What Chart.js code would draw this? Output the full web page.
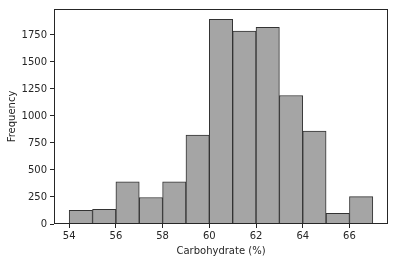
<!DOCTYPE html>
<html>
<head>
<meta charset="utf-8">
<script src="https://cdn.jsdelivr.net/npm/chart.js@4/dist/chart.umd.min.js"></script>
<style>
html,body{margin:0;padding:0;background:#fff;}
#wrap{width:395px;height:262px;}
</style>
</head>
<body>
<div id="wrap"><canvas id="c" width="395" height="262"></canvas></div>
<script>
const binStarts = [54, 55, 56, 57, 58, 59, 60, 61, 62, 63, 64, 65, 66];
const binWidth = 1;
const frequencies = [126, 135, 391, 245, 391, 822, 1894, 1785, 1821, 1189, 859, 98, 254];
const xTicks = [54, 56, 58, 60, 62, 64, 66];
const yTicks = [0, 250, 500, 750, 1000, 1250, 1500, 1750];
const xTitle = 'Carbohydrate (%)';
const yTitle = 'Frequency';

const points = binStarts.map((s, i) => ({x: s + binWidth / 2, y: frequencies[i]}));
const FONT = {family: 'DejaVu Sans', size: 10};
const axisColor = '#262626';

const frame = {
  id: 'frame',
  afterDraw(chart) {
    const a = chart.chartArea, ctx = chart.ctx;
    ctx.save();
    ctx.strokeStyle = axisColor;
    ctx.lineWidth = 1;
    ctx.strokeRect(Math.round(a.left) + 0.5, Math.round(a.top) + 0.5,
      Math.round(a.right - a.left) - 1, Math.round(a.bottom - a.top) - 1);
    ctx.restore();
  }
};

new Chart(document.getElementById('c'), {
  type: 'bar',
  data: {
    datasets: [{
      data: points,
      backgroundColor: '#a5a5a5',
      borderColor: '#333333',
      borderWidth: 1,
      barPercentage: 1,
      categoryPercentage: 1,
      borderSkipped: 'bottom'
    }]
  },
  options: {
    responsive: false,
    animation: false,
    devicePixelRatio: 1,
    layout: {padding: {left: 6, right: 7, top: 6, bottom: 5}},
    plugins: {legend: {display: false}, tooltip: {enabled: false}},
    scales: {
      x: {
        type: 'linear',
        offset: false,
        min: 53.35,
        max: 67.65,
        afterBuildTicks: (s) => { s.ticks = xTicks.map(v => ({value: v})); },
        afterFit: (s) => { s.height = 33; },
        grid: {display: true, offset: false, drawOnChartArea: false, drawTicks: true, tickLength: 4, color: axisColor},
        border: {display: false},
        ticks: {color: '#262626', font: FONT, padding: 2, maxRotation: 0, autoSkip: false},
        title: {display: true, text: xTitle, color: '#262626', font: FONT, padding: {top: 2, bottom: 0}}
      },
      y: {
        min: 0,
        max: 1990,
        afterBuildTicks: (s) => { s.ticks = yTicks.map(v => ({value: v})); },
        afterFit: (s) => { s.width = 48; },
        grid: {display: true, drawOnChartArea: false, drawTicks: true, tickLength: 4, color: axisColor},
        border: {display: false},
        ticks: {color: '#262626', font: FONT, padding: 3,
          callback: (v) => String(v)},
        title: {display: true, text: yTitle, color: '#262626', font: FONT, padding: {top: 0, bottom: 2}}
      }
    }
  },
  plugins: [frame]
});
</script>
</body>
</html>
